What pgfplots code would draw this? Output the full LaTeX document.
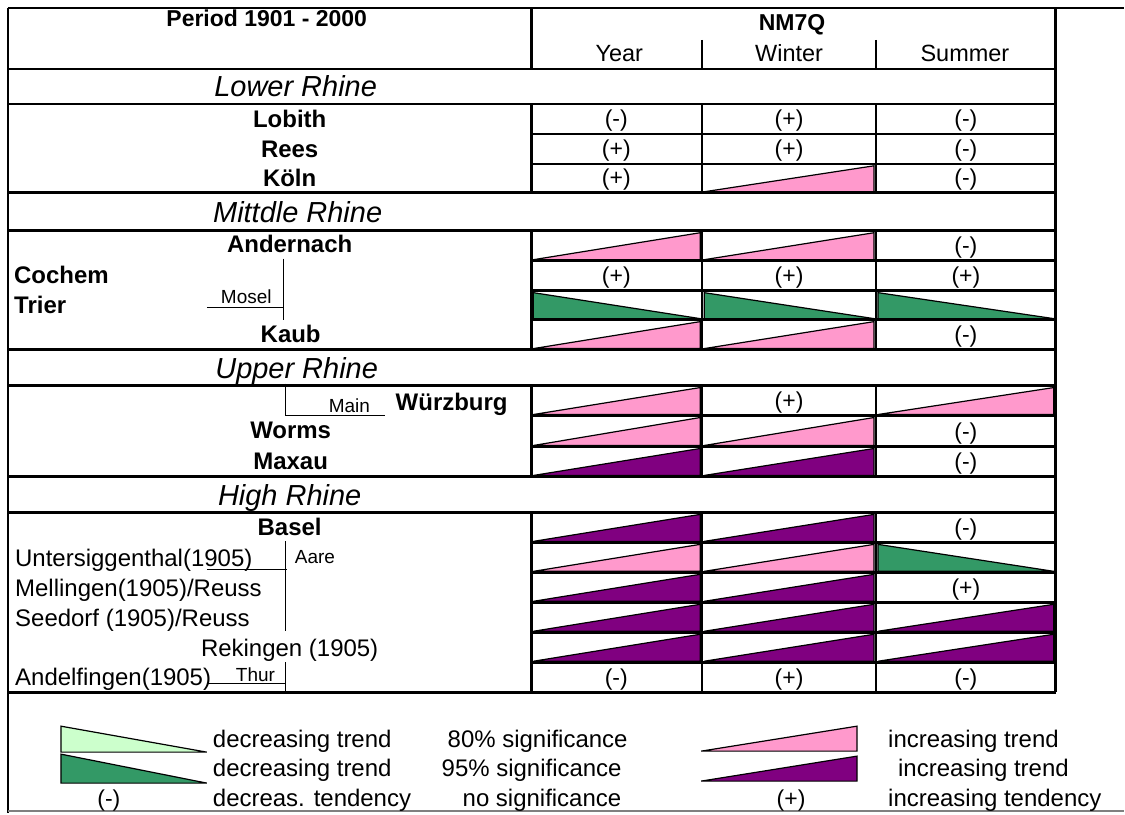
\documentclass[border=0pt]{standalone}
\usepackage{pgfplots}
\pgfplotsset{compat=1.18}
\usepackage{fontspec}
\setmainfont{Liberation Sans}
\definecolor{pinkc}{HTML}{FF99CC}
\definecolor{purplec}{HTML}{800080}
\definecolor{greenc}{HTML}{339966}
\definecolor{lgreenc}{HTML}{CCFFCC}
\newcommand\fs[1]{\fontsize{#1}{#1}\selectfont}
% triangles: x0, x1, ytop, ybottom, colour
\newcommand\up[5]{\addplot[fill=#5,draw=black,line width=1.2pt] coordinates {(#1,#4) (#2,#3) (#2,#4)} --cycle;}
\newcommand\down[5]{\addplot[fill=#5,draw=black,line width=1.2pt] coordinates {(#1,#3) (#1,#4) (#2,#4)} --cycle;}
\newcommand\lab[4]{\node[anchor=base,inner sep=0pt] at (axis cs:#1,#2) {\fs{#3}#4};}
\newcommand\labl[4]{\node[anchor=base west,inner sep=0pt] at (axis cs:#1,#2) {\fs{#3}#4};}
\begin{document}
\begin{tikzpicture}
\begin{axis}[
  scale only axis, width=1125pt, height=814pt,
  xmin=0, xmax=1125, ymin=0, ymax=814, y dir=reverse,
  hide axis, clip=false, enlargelimits=false,
  unbounded coords=jump,
]
\addplot[draw=none] coordinates {(0,0) (1125,814)};

% trend triangles (Year 534-701, Winter 705-875, Summer 879-1055)
\up{705}{875}{166}{192}{pinkc}
\up{534}{701}{233}{260}{pinkc}
\up{705}{875}{233}{260}{pinkc}
\down{534}{701}{293}{319}{greenc}
\down{705}{875}{293}{319}{greenc}
\down{879}{1055}{293}{319}{greenc}
\up{534}{701}{322}{349}{pinkc}
\up{705}{875}{322}{349}{pinkc}
\up{534}{701}{388}{415}{pinkc}
\up{879}{1055}{388}{415}{pinkc}
\up{534}{701}{418}{446}{pinkc}
\up{705}{875}{418}{446}{pinkc}
\up{534}{701}{449}{476}{purplec}
\up{705}{875}{449}{476}{purplec}
\up{534}{701}{515}{542}{purplec}
\up{705}{875}{515}{542}{purplec}
\up{534}{701}{545}{572}{pinkc}
\up{705}{875}{545}{572}{pinkc}
\down{879}{1055}{545}{572}{greenc}
\up{534}{701}{575}{602}{purplec}
\up{705}{875}{575}{602}{purplec}
\up{534}{701}{605}{632}{purplec}
\up{705}{875}{605}{632}{purplec}
\up{879}{1055}{605}{632}{purplec}
\up{534}{701}{635}{662}{purplec}
\up{705}{875}{635}{662}{purplec}
\up{879}{1055}{635}{662}{purplec}

% legend triangles
\down{61}{207}{727}{753}{lgreenc}
\down{61}{207}{755}{784}{greenc}
\up{702}{858}{727}{752}{pinkc}
\up{702}{858}{757}{782}{purplec}

% table rules
\addplot[black,line width=2.6pt] coordinates {
(8,8) (1125,8) (nan,nan)
(8,8) (8,814) (nan,nan)
(1057,8) (1057,693) (nan,nan)
(8,69) (1057,69) (nan,nan)
(8,104) (1057,104) (nan,nan)
(8,193) (1057,193) (nan,nan)
(8,231) (1057,231) (nan,nan)
(8,350) (1057,350) (nan,nan)
(8,386) (1057,386) (nan,nan)
(8,477) (1057,477) (nan,nan)
(8,513) (1057,513) (nan,nan)
(8,693) (1057,693) (nan,nan)
(532,8) (532,69) (nan,nan)
(532,104) (532,193) (nan,nan)
(532,231) (532,350) (nan,nan)
(532,386) (532,477) (nan,nan)
(532,513) (532,693) (nan,nan)
(703,40) (703,69) (nan,nan)
(703,104) (703,193) (nan,nan)
(703,231) (703,350) (nan,nan)
(703,386) (703,477) (nan,nan)
(703,513) (703,693) (nan,nan)
(877,40) (877,69) (nan,nan)
(877,104) (877,193) (nan,nan)
(877,231) (877,350) (nan,nan)
(877,386) (877,477) (nan,nan)
(877,513) (877,693) (nan,nan)
(532,134) (1057,134) (nan,nan)
(532,164) (1057,164) (nan,nan)
(532,261) (1057,261) (nan,nan)
(532,291) (1057,291) (nan,nan)
(532,320) (1057,320) (nan,nan)
(532,416) (1057,416) (nan,nan)
(532,447) (1057,447) (nan,nan)
(532,543) (1057,543) (nan,nan)
(532,573) (1057,573) (nan,nan)
(532,603) (1057,603) (nan,nan)
(532,633) (1057,633) (nan,nan)
(532,663) (1057,663)
};
\addplot[gray,line width=1.5pt] coordinates {(8,812) (1125,812)};
% tributary lines
\addplot[black,line width=1.4pt] coordinates {
(207,308) (284,308) (nan,nan) (284,259) (284,320) (nan,nan)
(286,384) (286,416) (385,416) (nan,nan)
(207,570) (287,570) (nan,nan) (286,542) (286,632) (nan,nan)
(207,684) (286,684) (nan,nan) (286,663) (286,692)
};

% header
\lab{267}{27}{23}{\bfseries Period 1901 - 2000}
\lab{793}{31}{23}{\bfseries NM7Q}
\lab{620}{62}{23.5}{Year}
\lab{790}{62}{23.5}{Winter}
\lab{966}{62}{23.5}{Summer}

% section titles
\lab{296}{97}{29}{\itshape Lower Rhine}
\lab{298}{223}{29}{\itshape Mittdle Rhine}
\lab{297}{379}{29}{\itshape Upper Rhine}
\lab{290}{506}{29}{\itshape High Rhine}

% station names
\lab{290}{128}{24}{\bfseries Lobith}
\lab{290}{158}{24}{\bfseries Rees}
\lab{290}{187}{24}{\bfseries Köln}
\lab{290}{253}{24}{\bfseries Andernach}
\labl{14}{284}{24}{\bfseries Cochem}
\labl{14}{314}{24}{\bfseries Trier}
\labl{221}{304}{19}{Mosel}
\lab{291}{343}{24}{\bfseries Kaub}
\labl{396}{411}{24}{\bfseries Würzburg}
\labl{329}{413}{19}{Main}
\lab{291}{439}{24}{\bfseries Worms}
\lab{291}{470}{24}{\bfseries Maxau}
\lab{290}{536}{24}{\bfseries Basel}
\labl{15}{567}{24}{Untersiggenthal(1905)}
\labl{295}{564}{19}{Aare}
\labl{15}{597}{24}{Mellingen(1905)/Reuss}
\labl{15}{627}{24}{Seedorf (1905)/Reuss}
\lab{290}{657}{24}{Rekingen (1905)}
\labl{15}{686}{24}{Andelfingen(1905)}
\labl{236}{682}{19}{Thur}

% tendencies without significance
\lab{617}{127}{23}{(-)}
\lab{790}{127}{23}{(+)}
\lab{967}{127}{23}{(-)}
\lab{617}{157}{23}{(+)}
\lab{790}{157}{23}{(+)}
\lab{967}{157}{23}{(-)}
\lab{617}{186}{23}{(+)}
\lab{967}{186}{23}{(-)}
\lab{967}{254}{23}{(-)}
\lab{617}{284}{23}{(+)}
\lab{790}{284}{23}{(+)}
\lab{967}{284}{23}{(+)}
\lab{967}{343}{23}{(-)}
\lab{790}{409}{23}{(+)}
\lab{967}{440}{23}{(-)}
\lab{967}{470}{23}{(-)}
\lab{967}{536}{23}{(-)}
\lab{967}{596}{23}{(+)}
\lab{617}{686}{23}{(-)}
\lab{790}{686}{23}{(+)}
\lab{967}{686}{23}{(-)}

% legend text
\labl{213}{748}{24}{decreasing trend}
\labl{213}{777}{24}{decreasing trend}
\labl{213}{807}{24}{decreas. tendency}
\labl{448}{748}{24}{80\% significance}
\labl{442}{777}{24}{95\% significance}
\labl{463}{807}{24}{no significance}
\labl{889}{748}{24}{increasing trend}
\labl{899}{777}{24}{increasing trend}
\labl{889}{807}{24}{increasing tendency}
\lab{109}{807}{23}{(-)}
\lab{792}{807}{23}{(+)}
\end{axis}
\end{tikzpicture}
\end{document}
